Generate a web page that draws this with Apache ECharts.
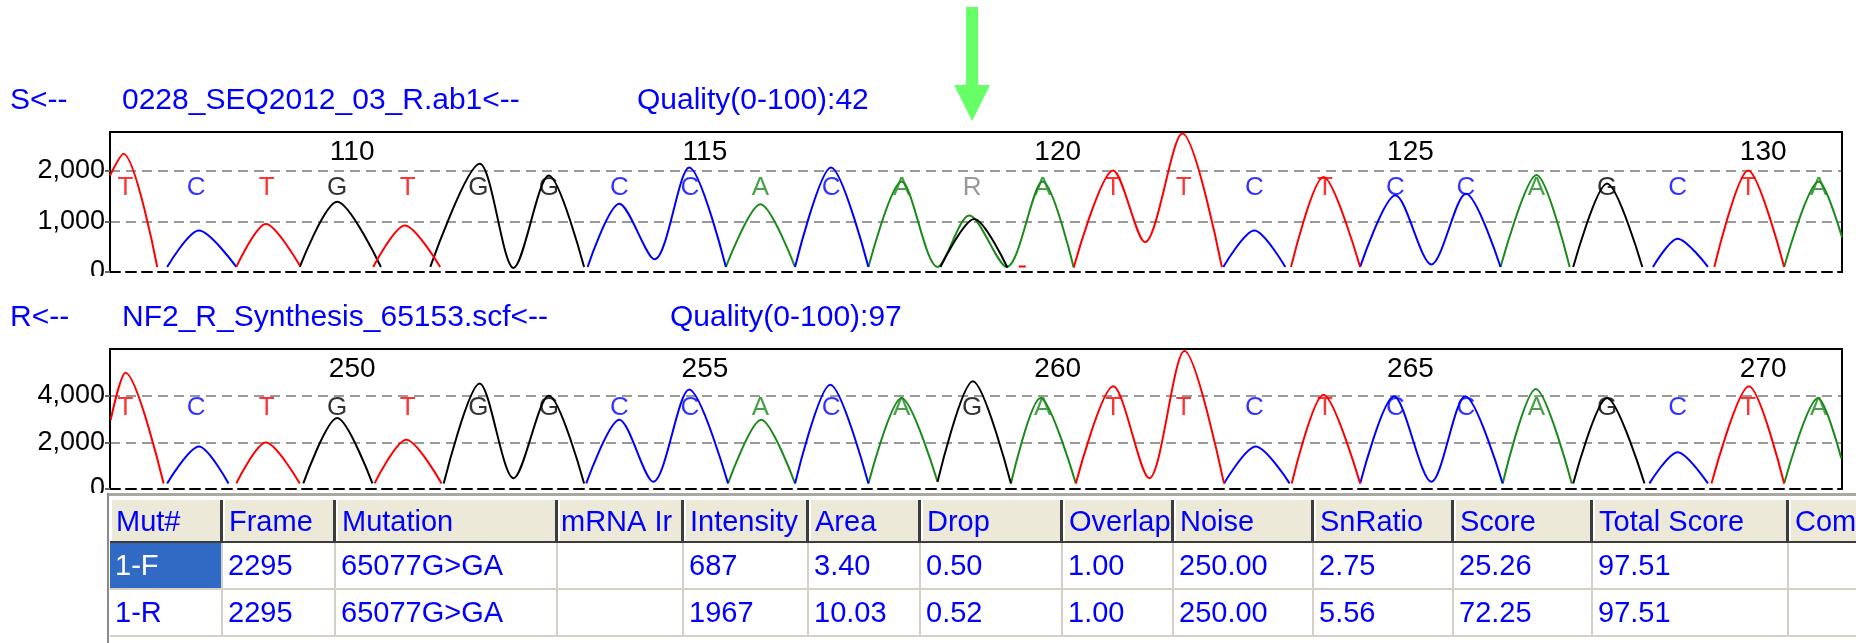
<!DOCTYPE html>
<html>
<head>
<meta charset="utf-8">
<script src="https://cdn.jsdelivr.net/npm/echarts@6/dist/echarts.min.js"></script>
<style>
  html, body { margin: 0; padding: 0; background: #ffffff; }
  #chart { width: 1856px; height: 643px; }
</style>
</head>
<body>
<div id="chart"></div>
<script>
// ---- Trace titles ----
const forwardTitle = ['S<--', '0228_SEQ2012_03_R.ab1<--', 'Quality(0-100):42'];
const reverseTitle = ['R<--', 'NF2_R_Synthesis_65153.scf<--', 'Quality(0-100):97'];

// ---- Base calls (one letter per base position) ----
const forwardFirstBase = 107;
const forwardBases = ['T','C','T','G','T','G','G','C','C','A','C','A','R','A','T','T','C','T','C','C','A','G','C','T','A'];
const reverseFirstBase = 247;
const reverseBases = ['T','C','T','G','T','G','G','C','C','A','C','A','G','A','T','T','C','T','C','C','A','G','C','T','A'];

// ---- Position ticks ----
const forwardTicks = [110, 115, 120, 125, 130];
const reverseTicks = [250, 255, 260, 265, 270];
const forwardRange = [106.78, 131.33];
const reverseRange = [246.78, 271.33];

// ---- Forward trace signal [base position, intensity]; null breaks a trace ----
const fwdA = [
  [115.51, 100], [116.0, 1340], [116.49, 100], null,
  [117.53, 100], [118.0, 1790], [118.51, 100], [118.96, 1120], [119.49, 100], [120.0, 1790], [120.44, 90], null,
  [126.49, 100], [127.0, 1920], [127.47, 100], null,
  [130.51, 100], [131.0, 1790], [131.33, 690]
];
const fwdC = [
  [107.59, 100], [108.04, 820], [108.57, 100], null,
  [113.55, 100], [114.0, 1350], [114.5, 250], [114.99, 2070], [115.51, 100], null,
  [116.49, 100], [117.0, 2070], [117.53, 100], null,
  [122.56, 100], [123.0, 820], [123.44, 100], null,
  [124.5, 100], [125.0, 1520], [125.51, 150], [126.0, 1550], [126.49, 100], null,
  [128.65, 100], [129.0, 660], [129.43, 100]
];
const fwdG = [
  [109.47, 100], [110.0, 1390], [110.62, 100], null,
  [111.32, 100], [112.02, 2140], [112.5, 80], [113.0, 1910], [113.5, 100], null,
  [118.55, 100], [119.03, 1050], [119.5, 90], null,
  [127.52, 100], [128.0, 1750], [128.5, 100]
];
const fwdT = [
  [106.78, 1910], [106.97, 2340], [107.45, 100], null,
  [108.57, 100], [108.99, 950], [109.47, 130], null,
  [110.51, 100], [110.96, 920], [111.46, 100], null,
  [119.66, 110], [119.76, 110], null,
  [120.44, 90], [121.0, 2010], [121.45, 590], [121.98, 2740], [122.54, 100], null,
  [123.52, 100], [123.98, 1880], [124.5, 100], null,
  [129.52, 100], [130.0, 2010], [130.51, 100]
];

// ---- Reverse trace signal ----
const revA = [
  [255.54, 240], [256.01, 2970], [256.49, 240], null,
  [257.53, 240], [258.0, 3900], [258.51, 310], null,
  [259.55, 240], [259.97, 3900], [260.47, 240], null,
  [266.52, 240], [266.99, 4290], [267.5, 240], null,
  [270.51, 240], [270.99, 3900], [271.32, 1320]
];
const revC = [
  [247.59, 240], [248.04, 1820], [248.46, 240], null,
  [253.53, 240], [254.0, 2970], [254.48, 310], [254.99, 4260], [255.54, 240], null,
  [256.49, 240], [256.99, 4470], [257.53, 240], null,
  [262.57, 240], [263.02, 1820], [263.5, 240], null,
  [264.5, 240], [264.98, 3970], [265.51, 310], [265.99, 3970], [266.52, 240], null,
  [268.6, 240], [269.0, 1580], [269.43, 240]
];
const revG = [
  [249.52, 240], [250.0, 3040], [250.5, 240], null,
  [251.51, 240], [252.02, 4520], [252.5, 460], [253.0, 4000], [253.5, 240], null,
  [258.51, 310], [259.01, 4620], [259.55, 240], null,
  [267.52, 240], [268.0, 3900], [268.53, 240]
];
const revT = [
  [246.79, 2970], [247.0, 4980], [247.54, 240], null,
  [248.57, 240], [248.99, 1990], [249.47, 240], null,
  [250.53, 240], [250.98, 2110], [251.48, 240], null,
  [260.47, 240], [261.0, 4400], [261.51, 460], [262.01, 5910], [262.57, 240], null,
  [263.53, 240], [263.98, 4040], [264.5, 240], null,
  [269.48, 240], [270.01, 4400], [270.51, 240]
];

// ---- Mutation table ----
const tableHeaders = ['Mut#', 'Frame', 'Mutation', 'mRNA Ir', 'Intensity', 'Area', 'Drop', 'Overlap', 'Noise', 'SnRatio', 'Score', 'Total Score', 'Com'];
const tableRows = [
  ['1-F', '2295', '65077G>GA', '', '687', '3.40', '0.50', '1.00', '250.00', '2.75', '25.26', '97.51', ''],
  ['1-R', '2295', '65077G>GA', '', '1967', '10.03', '0.52', '1.00', '250.00', '5.56', '72.25', '97.51', '']
];

// ---- Styling ----
const FONT = '"Liberation Sans", Arial, sans-serif';
const baseColor = { A: '#1a8a1a', C: '#0000ff', G: '#000000', T: '#ff0000', R: '#808080' };
const TITLE_BLUE = '#0000ff';

const chart = echarts.init(document.getElementById('chart'), null, { renderer: 'canvas', width: 1856, height: 643 });

const grids = [
  { left: 110, right: 14, top: 132, height: 140 },
  { left: 110, right: 14, top: 349, height: 140 }
];

function positionAxis(gridIndex, range, ticks) {
  return {
    type: 'value', gridIndex, min: range[0], max: range[1], position: 'top',
    axisLine: { show: true, onZero: false, lineStyle: { color: '#000', width: 2 } },
    axisTick: { show: false },
    splitLine: { show: false },
    axisLabel: {
      show: true, inside: true, margin: 6, customValues: ticks,
      fontFamily: FONT, fontSize: 28, color: '#000', padding: [0, 0, 0, 30],
      formatter: v => String(Math.round(v))
    }
  };
}
function baselineAxis(gridIndex, range) {
  return {
    type: 'value', gridIndex, min: range[0], max: range[1], position: 'bottom',
    axisLine: { show: true, onZero: false, lineStyle: { color: '#000', width: 2, type: [10, 6] } },
    axisTick: { show: false }, axisLabel: { show: false }, splitLine: { show: false }
  };
}
function intensityAxis(gridIndex, max, interval) {
  return {
    type: 'value', gridIndex, min: 0, max, interval, position: 'left',
    axisLine: { show: true, lineStyle: { color: '#000', width: 2 } },
    axisTick: { show: true, length: 5, lineStyle: { color: '#666', width: 2 } },
    axisLabel: {
      fontFamily: FONT, fontSize: 27, color: '#000', margin: 5, showMaxLabel: false,
      formatter: v => v.toLocaleString('en-US')
    },
    splitLine: { show: true, lineStyle: { color: '#999', width: 2, type: [10, 6] } }
  };
}
function rightBorderAxis(gridIndex, max) {
  return {
    type: 'value', gridIndex, min: 0, max, position: 'right',
    axisLine: { show: true, lineStyle: { color: '#000', width: 2 } },
    axisTick: { show: false }, axisLabel: { show: false }, splitLine: { show: false }
  };
}

function trace(data, color, xi, yi) {
  return {
    type: 'line', data, xAxisIndex: xi, yAxisIndex: yi,
    symbol: 'none', showSymbol: false, smooth: 0.3, connectNulls: false,
    lineStyle: { color, width: 2 }, silent: true, animation: false, z: 3
  };
}
function baseLetters(bases, first, level, xi, yi) {
  return {
    type: 'scatter', xAxisIndex: xi, yAxisIndex: yi, symbolSize: 1, silent: true, animation: false, z: 4,
    itemStyle: { color: 'transparent' },
    label: { show: true, position: 'inside', fontFamily: FONT, fontSize: 26 },
    data: bases.map((b, i) => ({ name: b, value: [first + i, level], label: { formatter: b, color: baseColor[b] } }))
  };
}

const FWD_MAX = 2770, REV_MAX = 6000;

chart.setOption({
  backgroundColor: '#ffffff',
  animation: false,
  grid: grids,
  xAxis: [
    positionAxis(0, forwardRange, forwardTicks),
    baselineAxis(0, forwardRange),
    positionAxis(1, reverseRange, reverseTicks),
    baselineAxis(1, reverseRange)
  ],
  yAxis: [
    intensityAxis(0, FWD_MAX, 1000),
    rightBorderAxis(0, FWD_MAX),
    intensityAxis(1, REV_MAX, 2000),
    rightBorderAxis(1, REV_MAX)
  ],
  series: [
    trace(fwdA, baseColor.A, 0, 0),
    trace(fwdC, baseColor.C, 0, 0),
    trace(fwdG, baseColor.G, 0, 0),
    trace(fwdT, baseColor.T, 0, 0),
    baseLetters(forwardBases, forwardFirstBase, FWD_MAX * 0.6, 0, 0),
    trace(revA, baseColor.A, 2, 2),
    trace(revC, baseColor.C, 2, 2),
    trace(revG, baseColor.G, 2, 2),
    trace(revT, baseColor.T, 2, 2),
    baseLetters(reverseBases, reverseFirstBase, REV_MAX * 0.583, 2, 2)
  ]
});

// ---- Titles, variant arrow and mutation table ----
const g = [];
function text(str, x, y, opts) {
  g.push(Object.assign({
    type: 'text', z: 50, silent: true,
    style: Object.assign({ text: str, x, y, fill: TITLE_BLUE, font: '30px ' + FONT, align: 'left', verticalAlign: 'middle' }, opts || {})
  }));
}
function rect(x, y, w, h, fill, z) {
  g.push({ type: 'rect', z: z || 40, silent: true, shape: { x, y, width: w, height: h }, style: { fill } });
}

// clip the zero labels just below each baseline
rect(0, 276, 108, 20, '#ffffff', 30);
rect(0, 493, 108, 150, '#ffffff', 30);

const titleX = [10, 122];
text(forwardTitle[0], titleX[0], 101);
text(forwardTitle[1], titleX[1], 101);
text(forwardTitle[2], 637, 101);
text(reverseTitle[0], titleX[0], 318);
text(reverseTitle[1], titleX[1], 318);
text(reverseTitle[2], 670, 318);

// arrow pointing to the ambiguous base call
const variantIndex = forwardBases.indexOf('R');
const ax = chart.convertToPixel({ xAxisIndex: 0 }, forwardFirstBase + variantIndex);
rect(ax - 6, 7, 12, 80, '#66ff66', 45);
g.push({ type: 'polygon', z: 45, silent: true, shape: { points: [[ax - 18, 85], [ax + 18, 85], [ax, 121]] }, style: { fill: '#66ff66' } });

// table
const colX = [110, 223, 336, 558, 684, 809, 921, 1063, 1174, 1314, 1454, 1593, 1789, 1900];
const rowY = [498, 543, 590, 637];
rect(107, 493, 1749, 150, '#ffffff', 35);
rect(107, 493, 1749, 3, '#a9a8a2', 36);
rect(107, 493, 2, 150, '#8a8a8a', 36);
for (let c = 0; c < tableHeaders.length; c++) {
  const x0 = colX[c], x1 = colX[c + 1];
  rect(x0, rowY[0], x1 - x0, rowY[1] - rowY[0], '#ece9d8', 37);
  rect(x0, rowY[0], x1 - x0, 2, '#ffffff', 38);
  rect(x0, rowY[0], 2, rowY[1] - rowY[0], '#ffffff', 38);
  rect(x1 - 3, rowY[0] + 2, 3, rowY[1] - rowY[0] - 2, '#3c3c3c', 38);
  // grid lines of the body
  rect(x1 - 2, rowY[1], 2, rowY[3] - rowY[1], '#d4d0c8', 38);
}
rect(110, rowY[1] - 2, 1746, 2, '#3c3c3c', 38);
rect(110, rowY[2] - 2, 1746, 2, '#d4d0c8', 38);
rect(110, rowY[3] - 2, 1746, 2, '#d4d0c8', 38);
// selected cell
rect(colX[0], rowY[1], colX[1] - colX[0] - 2, rowY[2] - rowY[1] - 2, '#316ac5', 39);

const tableFont = '29px ' + FONT;
tableHeaders.forEach((h, c) => text(h, colX[c] + (c === 3 ? 3 : 6), (rowY[0] + rowY[1]) / 2 + 2, { font: tableFont }));
tableRows.forEach((row, r) => {
  row.forEach((v, c) => {
    if (!v) return;
    const selected = r === 0 && c === 0;
    text(v, colX[c] + 5, (rowY[r + 1] + rowY[r + 2]) / 2, { font: tableFont, fill: selected ? '#ffffff' : TITLE_BLUE });
  });
});

chart.setOption({ graphic: { elements: g } });
</script>
</body>
</html>
